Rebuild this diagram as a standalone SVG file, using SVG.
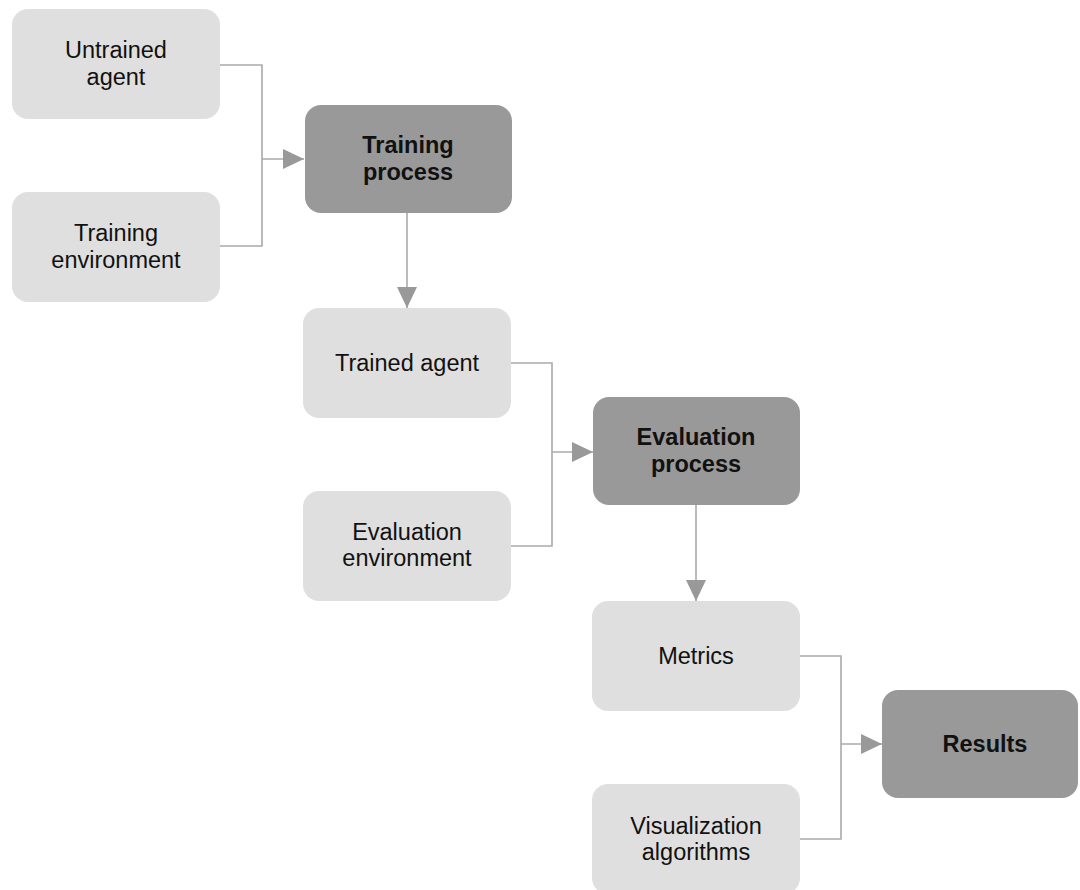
<svg xmlns="http://www.w3.org/2000/svg" width="1080" height="890" viewBox="0 0 1080 890">
<defs>
<style>
.light{fill:#dfdfdf}
.dark{fill:#999999}
.t{font-family:"Liberation Sans",Arial,sans-serif;font-size:23.5px;fill:#111;text-anchor:middle}
.b{font-weight:bold}
.c{fill:none;stroke:#aaaaaa;stroke-width:1.6}
</style>
<marker id="ah" viewBox="0 0 21 20" refX="21" refY="10" markerWidth="21" markerHeight="20" markerUnits="userSpaceOnUse" orient="auto">
<path d="M0,0 L21,10 L0,20 Z" fill="#999999"/>
</marker>
</defs>
<rect width="1080" height="890" fill="#ffffff"/>
<g id="connectors">
<polyline class="c" points="220,65 262,65 262,246 220,246"/>
<line class="c" x1="262" y1="159" x2="304" y2="159" marker-end="url(#ah)"/>
<line class="c" x1="407" y1="213" x2="407" y2="308" marker-end="url(#ah)"/>
<polyline class="c" points="511,363 552,363 552,546 511,546"/>
<line class="c" x1="552" y1="452" x2="593" y2="452" marker-end="url(#ah)"/>
<line class="c" x1="696" y1="505" x2="696" y2="601" marker-end="url(#ah)"/>
<polyline class="c" points="800,656 841,656 841,839 800,839"/>
<line class="c" x1="841" y1="744" x2="882" y2="744" marker-end="url(#ah)"/>
</g>
<g id="untrained-agent">
<rect class="light" x="12" y="9" width="208" height="110" rx="16"/>
<text class="t" x="116" y="58">Untrained</text>
<text class="t" x="116" y="85">agent</text>
</g>
<g id="training-environment">
<rect class="light" x="12" y="192" width="208" height="110" rx="16"/>
<text class="t" x="116" y="241">Training</text>
<text class="t" x="116" y="268">environment</text>
</g>
<g id="training-process">
<rect class="dark" x="305" y="105" width="207" height="108" rx="16"/>
<text class="t b" x="408" y="153">Training</text>
<text class="t b" x="408" y="180">process</text>
</g>
<g id="trained-agent">
<rect class="light" x="303" y="308" width="208" height="110" rx="16"/>
<text class="t" x="407" y="371">Trained agent</text>
</g>
<g id="evaluation-environment">
<rect class="light" x="303" y="491" width="208" height="110" rx="16"/>
<text class="t" x="407" y="540">Evaluation</text>
<text class="t" x="407" y="566">environment</text>
</g>
<g id="evaluation-process">
<rect class="dark" x="593" y="397" width="207" height="108" rx="16"/>
<text class="t b" x="696" y="445">Evaluation</text>
<text class="t b" x="696" y="472">process</text>
</g>
<g id="metrics">
<rect class="light" x="592" y="601" width="208" height="110" rx="16"/>
<text class="t" x="696" y="664">Metrics</text>
</g>
<g id="visualization-algorithms">
<rect class="light" x="592" y="784" width="208" height="110" rx="16"/>
<text class="t" x="696" y="834">Visualization</text>
<text class="t" x="696" y="860">algorithms</text>
</g>
<g id="results">
<rect class="dark" x="882" y="690" width="196" height="108" rx="16"/>
<text class="t b" x="985" y="752">Results</text>
</g>
</svg>
